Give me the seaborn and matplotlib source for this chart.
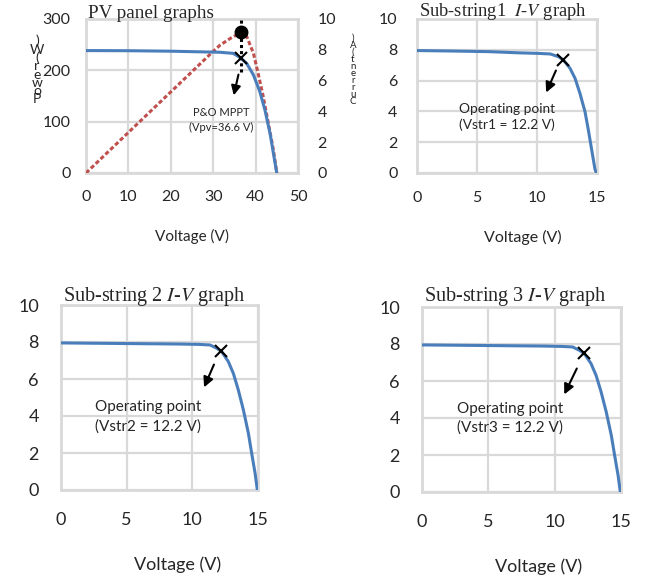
import matplotlib
matplotlib.use("Agg")
import matplotlib.pyplot as plt
import seaborn as sns
import pandas as pd

# ---------------- data ----------------
pv_voltage = [0, 10, 20, 31.6, 34.7, 36.3, 37.9, 39.5, 41.0, 42.2, 43.4, 44.2, 45]
pv_current = [7.95, 7.94, 7.91, 7.84, 7.77, 7.51, 7.12, 6.36, 5.28, 4.09, 2.58, 1.28, 0]
pw_voltage = [0, 10, 20, 30, 31.6, 34.0, 36.6, 37.9, 39.5, 40.6, 41.8, 43.0, 44.2, 45]
pw_power = [0, 79, 158, 237, 249, 262, 274, 266, 233, 194, 149, 97, 45, 0]
mppt_v, mppt_p, mppt_i = 36.6, 275, 7.47

sub1_voltage = [0, 3, 6, 8.6, 10, 11.1, 11.8, 12.2, 12.75, 13.17, 13.58, 14.0, 14.28,
                14.56, 14.83, 14.95]
sub1_current = [7.95, 7.92, 7.88, 7.8, 7.77, 7.73, 7.55, 7.34, 6.8, 6.15, 5.17, 3.98,
                2.79, 1.49, 0.25, 0]
sub23_voltage = [0, 3, 6, 9.06, 10.5, 11.35, 11.86, 12.24, 12.74, 13.12, 13.5, 13.89,
                 14.27, 14.52, 14.78, 14.95]
sub2_current = [7.95, 7.93, 7.91, 7.89, 7.87, 7.84, 7.66, 7.48, 6.94, 6.31, 5.41, 4.32,
                3.06, 1.98, 0.9, 0]
sub3_current = [7.95, 7.93, 7.91, 7.89, 7.87, 7.84, 7.66, 7.48, 6.94, 6.31, 5.41, 4.32,
                3.06, 1.98, 0.9, 0]
op_v = 12.2
op_i = [7.35, 7.5, 7.5]

pv_xticks = [0, 10, 20, 30, 40, 50]
pw_yticks = [0, 100, 200, 300]
i_ticks = [0, 2, 4, 6, 8, 10]
sub_xticks = [0, 5, 10, 15]
titles = ["PV panel graphs", "Sub-string1  $I$-$V$ graph",
          "Sub-string 2 $I$-$V$ graph", "Sub-string 3 $I$-$V$ graph"]
op_labels = ["Operating point\n(Vstr1 = 12.2 V)",
             "Operating point\n(Vstr2 = 12.2 V)",
             "Operating point\n(Vstr3 = 12.2 V)"]
mppt_label = "P&O MPPT\n(Vpv=36.6 V)"
xlabel = "Voltage (V)"

# ---------------- style ----------------
sns.set_style("white")
plt.rcParams["font.family"] = ["Lato", "DejaVu Sans"]
plt.rcParams["mathtext.fontset"] = "stix"

BLUE = "#4a7ebb"
RED = "#c0504d"
GRID = "#d9d9d9"

W, H = 647, 578
fig = plt.figure(figsize=(W / 100, H / 100), dpi=100)


def px_axes(l, r, t, b):
    return fig.add_axes([l / W, (H - b) / H, (r - l) / W, (b - t) / H])


def style(ax, fs, padx, pady):
    for s in ax.spines.values():
        s.set_color(GRID)
        s.set_linewidth(2)
    ax.grid(True, color=GRID, linewidth=1.6)
    ax.set_axisbelow(True)
    ax.tick_params(length=0, labelsize=fs)
    ax.tick_params(axis="x", pad=padx)
    ax.tick_params(axis="y", pad=pady)


# ---------------- top-left: PV panel ----------------
ax = px_axes(86, 298, 19, 173)
sns.lineplot(x=pw_voltage, y=pw_power, ax=ax, color=RED, linestyle=(0, (1.4, 0.8)),
             linewidth=2.2, zorder=3)
ax.set_xlim(0, 50)
ax.set_ylim(0, 300)
ax.set_xticks(pv_xticks)
ax.set_yticks(pw_yticks)
style(ax, 11.5, 12, 11)
ax.set_xlabel(xlabel, fontsize=11, labelpad=18)
ax.set_ylabel("")
ax.vlines(mppt_v, 197, 302, colors="black", linestyles=(0, (1, 1)), linewidth=2.2,
          zorder=5, clip_on=False)
ax.plot([mppt_v], [mppt_p], "o", color="black", markersize=9, zorder=6)
ax.annotate("", xy=(34.7, 146), xytext=(36.1, 197),
            arrowprops=dict(arrowstyle="-|>", color="black", lw=1.5,
                            mutation_scale=14))
ax.text(32.0, 103, mppt_label, ha="center", va="center", fontsize=8, linespacing=1.5)

ax2 = ax.twinx()
sns.lineplot(x=pv_voltage, y=pv_current, ax=ax2, color=BLUE, linewidth=2.2, zorder=4)
ax2.plot([mppt_v], [mppt_i], "x", color="black", markersize=8, mew=1.5, zorder=7)
ax2.set_ylim(0, 10)
ax2.set_yticks(i_ticks)
ax2.tick_params(length=0, labelsize=11.5, pad=14)
for s in ax2.spines.values():
    s.set_visible(False)
ax2.set_ylabel("")

fig.text(88 / W, 1 - 14 / H, titles[0], family="Liberation Serif", fontsize=13.8,
         ha="left", va="center")
# garbled stacked axis labels as in the source image
fig.text(37 / W, 1 - 70 / H, "\n".join(list(")W(rewoP")), fontsize=10, ha="center",
         va="center", linespacing=0.62)
fig.text(353 / W, 1 - 70 / H, "\n".join(list(")A(tnerruC")), fontsize=7, ha="center",
         va="center", linespacing=0.72, color="#222222")

# ---------------- substrings ----------------
boxes = [(417, 597, 19, 173), (61, 258, 305, 490), (422, 621, 307, 492)]
voltages = [sub1_voltage, sub23_voltage, sub23_voltage]
currents = [sub1_current, sub2_current, sub3_current]
title_pos = [(419, 12), (63, 297), (424, 297)]
title_fs = [13.3, 14.5, 14.5]
arrows = [((10.67, 5.06), (11.67, 6.82)), ((10.81, 5.41), (11.73, 6.92)),
          ((10.63, 5.14), (11.76, 6.81))]
label_pos = [(7.5, 3.64), (6.63, 3.95), (6.63, 4.0)]
tick_fs = [11.5, 13, 13]
xlab_fs = [11.5, 13, 13]
xlab_x = [0.589, 0.591, 0.588]
ann_fs = [9.9, 11, 11]
for k in range(3):
    l, r, t, b = boxes[k]
    ax = px_axes(l, r, t, b)
    df = pd.DataFrame({"V": voltages[k], "I": currents[k]})
    sns.lineplot(data=df, x="V", y="I", ax=ax, color=BLUE, linewidth=2.2, zorder=3)
    ax.plot([op_v], [op_i[k]], "x", color="black", markersize=9, mew=1.5, zorder=5)
    ax.set_xlim(0, 15)
    ax.set_ylim(0, 10)
    ax.set_xticks(sub_xticks)
    ax.set_yticks(i_ticks)
    style(ax, tick_fs[k], 13 if k == 0 else 16, 14 if k == 0 else 16)
    ax.set_xlabel(xlabel, fontsize=xlab_fs[k], labelpad=18 if k == 0 else 20)
    ax.xaxis.label.set_x(xlab_x[k])
    ax.set_ylabel("")
    head, tail = arrows[k]
    ax.annotate("", xy=head, xytext=tail,
                arrowprops=dict(arrowstyle="-|>", color="black", lw=1.5,
                                mutation_scale=15))
    ax.text(label_pos[k][0], label_pos[k][1], op_labels[k], ha="center", va="center",
            fontsize=ann_fs[k], linespacing=1.4)
    tx, ty = title_pos[k]
    fig.text(tx / W, 1 - ty / H, titles[k + 1], family="Liberation Serif",
             fontsize=title_fs[k], ha="left", va="center")

fig.savefig("out.png", dpi=100)
